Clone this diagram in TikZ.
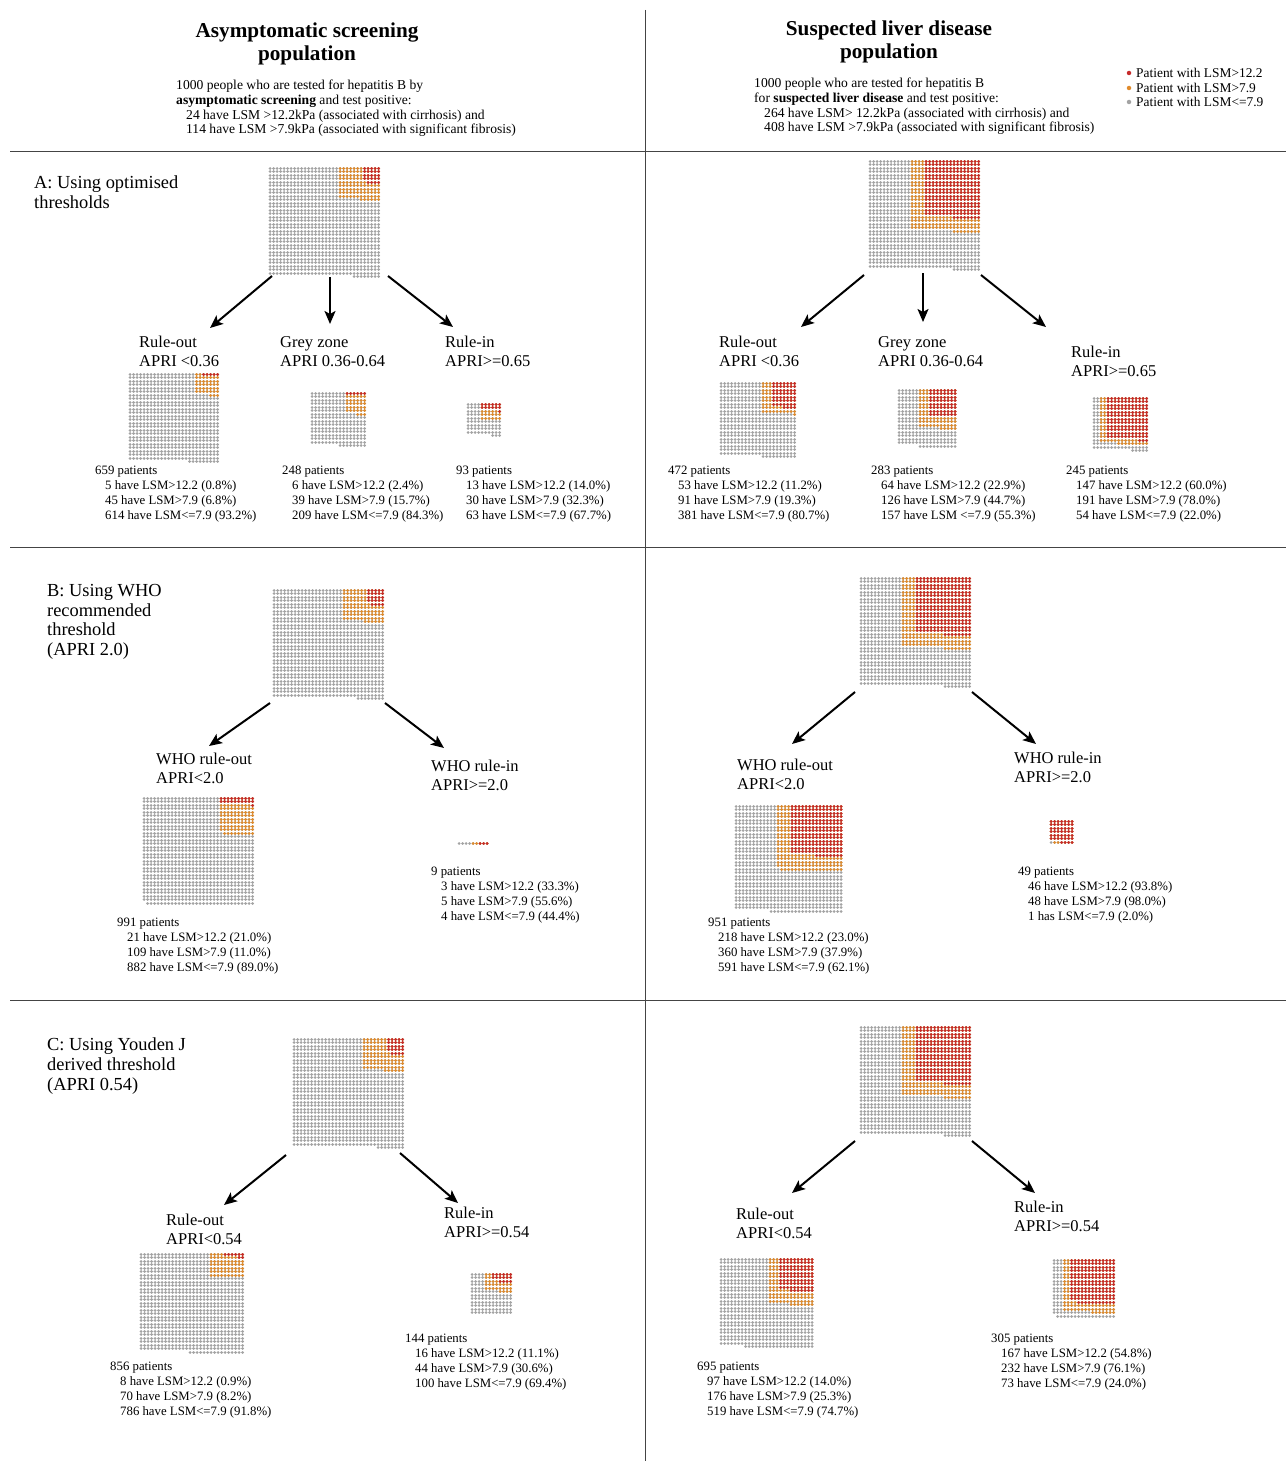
\documentclass[tikz,border=0pt]{standalone}
\usepackage{fontspec}
\setmainfont{Liberation Serif}
\usepackage{tikz}
\usetikzlibrary{arrows.meta}
\usetikzlibrary{positioning}

\definecolor{lsmhigh}{HTML}{C62B2B}
\definecolor{lsmmid}{HTML}{E08B2C}
\definecolor{lsmlow}{HTML}{A3A3A3}
\definecolor{rulegray}{HTML}{444444}

% pitch of the dot grid
\def\wp{3.5}

% one run of dots, right aligned in a grid of #4 columns
\newcommand{\dotseg}[5]{%
  \ifnum#5>0
    \pgfmathsetmacro{\xa}{#2+(#4-#5)*\wp}
    \pgfmathsetmacro{\xb}{#2+(#4-1)*\wp+0.3}
    \draw[dotline,#1] (\xa,#3) -- (\xb,#3);
  \fi}

% x, y, patients, columns, red, red width, orange, orange width
\newcommand{\waffle}[8]{%
  \pgfmathtruncatemacro{\wfull}{floor(#3/#4)}
  \pgfmathtruncatemacro{\wrem}{mod(#3,#4)}
  \pgfmathtruncatemacro{\wrows}{\wrem>0 ? \wfull : \wfull-1}
  \foreach \row in {0,...,\wrows}{
    \pgfmathsetmacro{\yy}{#2+\row*\wp}
    \pgfmathtruncatemacro{\lg}{\row<\wfull ? #4 : \wrem}
    \pgfmathtruncatemacro{\lo}{\row<floor(#7/#8) ? #8 : (\row==floor(#7/#8) ? mod(#7,#8) : 0)}
    \pgfmathtruncatemacro{\lr}{\row<floor(#5/#6) ? #6 : (\row==floor(#5/#6) ? mod(#5,#6) : 0)}
    \dotseg{lsmlow}{#1}{\yy}{#4}{\lg}
    \dotseg{lsmmid}{#1}{\yy}{#4}{\lo}
    \dotseg{lsmhigh}{#1}{\yy}{#4}{\lr}
  }}

\tikzset{
  dotline/.style={line width=3pt, line cap=round, dash pattern=on 0.01pt off 3.49pt},
  rule/.style={draw=rulegray, line width=0.9pt},
  arr/.style={-{Stealth[length=13pt,width=11pt,inset=3pt]}, line width=2pt},
  title/.style={font=\bfseries\fontsize{21.2}{22.5}\selectfont, align=center},
  desc/.style={font=\fontsize{13.6}{14.7}\selectfont, align=left, anchor=north west, inner sep=0pt},
  section/.style={font=\fontsize{18.4}{19.7}\selectfont, align=left, anchor=north west, inner sep=0pt},
  branch/.style={font=\fontsize{16.5}{19}\selectfont, align=left, anchor=north west, inner sep=0pt},
  stat/.style={font=\fontsize{12.8}{15}\selectfont, align=left, anchor=north west, inner sep=0pt},
  legdot/.style={circle, fill=#1, inner sep=0pt, minimum size=4.5pt},
  legtext/.style={font=\fontsize{13.4}{14}\selectfont, anchor=west, inner sep=0pt}
}

\newcommand{\ind}{\hspace*{10pt}}

\begin{document}
\begin{tikzpicture}[x=1pt,y=-1pt]
  \useasboundingbox (0,0) rectangle (1286,1461);

  % dividers
  \draw[rule] (645,10) -- (645,1461);
  \draw[rule] (10,151) -- (1286,151);
  \draw[rule] (10,547) -- (1286,547);
  \draw[rule] (10,1000) -- (1286,1000);

  % headers
  \node[title] (asyTitle) at (307,44) {Asymptomatic screening\\population};
  \node[title] (susTitle) at (889,42) {Suspected liver disease\\population};

  \node[desc] (asyDesc) at (176,80) {1000 people who are tested for hepatitis B by\\
    \textbf{asymptomatic screening} and test positive:\\
    \ind 24 have LSM >12.2kPa (associated with cirrhosis) and\\
    \ind 114 have LSM >7.9kPa (associated with significant fibrosis)};
  \node[desc] (susDesc) at (754,78) {1000 people who are tested for hepatitis B\\
    for \textbf{suspected liver disease} and test positive:\\
    \ind 264 have LSM> 12.2kPa (associated with cirrhosis) and\\
    \ind 408 have LSM >7.9kPa (associated with significant fibrosis)};

  % legend
  \node[legdot=lsmhigh] (legHigh) at (1129,73) {};
  \node[legdot=lsmmid] (legMid) at (1129,88) {};
  \node[legdot=lsmlow] (legLow) at (1129,102) {};
  \node[legtext] (legHighTxt) at (1136,73) {Patient with LSM>12.2};
  \node[legtext] (legMidTxt) at (1136,88) {Patient with LSM>7.9};
  \node[legtext] (legLowTxt) at (1136,102) {Patient with LSM<=7.9};

  % ---------------- A: optimised thresholds
  \node[section] (secA) at (34,176) {A: Using optimised\\thresholds};

  \waffle{270}{168}{1000}{32}{24}{5}{114}{12}
  \waffle{130}{374}{659}{26}{5}{5}{45}{7}
  \waffle{312}{393}{248}{16}{6}{6}{39}{6}
  \waffle{468}{404}{93}{10}{13}{6}{30}{6}

  \node[branch] (asyA-outlab) at (139,336) {Rule-out\\APRI <0.36};
  \node[branch] (asyA-greylab) at (280,336) {Grey zone\\APRI 0.36-0.64};
  \node[branch] (asyA-inlab) at (445,336) {Rule-in\\APRI>=0.65};

  \node[stat] (asyA-outnum) at (95,466) {659 patients\\
    \ind 5 have LSM>12.2 (0.8\%)\\ \ind 45 have LSM>7.9 (6.8\%)\\ \ind 614 have LSM<=7.9 (93.2\%)};
  \node[stat] (asyA-greynum) at (282,466) {248 patients\\
    \ind 6 have LSM>12.2 (2.4\%)\\ \ind 39 have LSM>7.9 (15.7\%)\\ \ind 209 have LSM<=7.9 (84.3\%)};
  \node[stat] (asyA-innum) at (456,466) {93 patients\\
    \ind 13 have LSM>12.2 (14.0\%)\\ \ind 30 have LSM>7.9 (32.3\%)\\ \ind 63 have LSM<=7.9 (67.7\%)};

  \coordinate (asyA-s1) at (272,276);
  \coordinate (asyA-s2) at (330,277);
  \coordinate (asyA-s3) at (388,276);
  \coordinate (asyA-e1) at (210,328);
  \coordinate (asyA-e2) at (330,324);
  \coordinate (asyA-e3) at (453,327);
  \draw[arr] (asyA-s1) -- (asyA-e1);
  \draw[arr] (asyA-s2) -- (asyA-e2);
  \draw[arr] (asyA-s3) -- (asyA-e3);

  \waffle{870}{161}{1000}{32}{264}{16}{408}{20}
  \waffle{721}{383}{472}{22}{53}{7}{91}{10}
  \waffle{899}{390}{283}{17}{64}{8}{126}{11}
  \waffle{1094}{398}{245}{16}{147}{12}{191}{14}

  \node[branch] (susA-outlab) at (719,336) {Rule-out\\APRI <0.36};
  \node[branch] (susA-greylab) at (878,336) {Grey zone\\APRI 0.36-0.64};
  \node[branch] (susA-inlab) at (1071,346) {Rule-in\\APRI>=0.65};

  \node[stat] (susA-outnum) at (668,466) {472 patients\\
    \ind 53 have LSM>12.2 (11.2\%)\\ \ind 91 have LSM>7.9 (19.3\%)\\ \ind 381 have LSM<=7.9 (80.7\%)};
  \node[stat] (susA-greynum) at (871,466) {283 patients\\
    \ind 64 have LSM>12.2 (22.9\%)\\ \ind 126 have LSM>7.9 (44.7\%)\\ \ind 157 have LSM <=7.9 (55.3\%)};
  \node[stat] (susA-innum) at (1066,466) {245 patients\\
    \ind 147 have LSM>12.2 (60.0\%)\\ \ind 191 have LSM>7.9 (78.0\%)\\ \ind 54 have LSM<=7.9 (22.0\%)};

  \coordinate (susA-s1) at (864,275);
  \coordinate (susA-s2) at (923,273);
  \coordinate (susA-s3) at (981,275);
  \coordinate (susA-e1) at (801,327);
  \coordinate (susA-e2) at (923,322);
  \coordinate (susA-e3) at (1046,327);
  \draw[arr] (susA-s1) -- (susA-e1);
  \draw[arr] (susA-s2) -- (susA-e2);
  \draw[arr] (susA-s3) -- (susA-e3);

  % ---------------- B: WHO threshold
  \node[section] (secB) at (47,584) {B: Using WHO\\recommended\\threshold\\(APRI 2.0)};

  \waffle{274}{590}{1000}{32}{24}{5}{114}{12}
  \waffle{144}{798}{991}{32}{21}{10}{109}{10}
  \waffle{459}{843}{9}{9}{3}{3}{5}{5}

  \node[branch] (asyB-outlab) at (156,753) {WHO rule-out\\APRI<2.0};
  \node[branch] (asyB-inlab) at (431,760) {WHO rule-in\\APRI>=2.0};

  \node[stat] (asyB-outnum) at (117,918) {991 patients\\
    \ind 21 have LSM>12.2 (21.0\%)\\ \ind 109 have LSM>7.9 (11.0\%)\\ \ind 882 have LSM<=7.9 (89.0\%)};
  \node[stat] (asyB-innum) at (431,867) {9 patients\\
    \ind 3 have LSM>12.2 (33.3\%)\\ \ind 5 have LSM>7.9 (55.6\%)\\ \ind 4 have LSM<=7.9 (44.4\%)};

  \coordinate (asyB-s1) at (270,703);
  \coordinate (asyB-s2) at (385,703);
  \coordinate (asyB-e1) at (209,746);
  \coordinate (asyB-e2) at (444,748);
  \draw[arr] (asyB-s1) -- (asyB-e1);
  \draw[arr] (asyB-s2) -- (asyB-e2);

  \waffle{861}{578}{1000}{32}{264}{16}{408}{20}
  \waffle{736}{806}{951}{31}{218}{15}{360}{19}
  \waffle{1051}{821}{49}{7}{46}{7}{48}{7}

  \node[branch] (susB-outlab) at (737,759) {WHO rule-out\\APRI<2.0};
  \node[branch] (susB-inlab) at (1014,752) {WHO rule-in\\APRI>=2.0};

  \node[stat] (susB-outnum) at (708,918) {951 patients\\
    \ind 218 have LSM>12.2 (23.0\%)\\ \ind 360 have LSM>7.9 (37.9\%)\\ \ind 591 have LSM<=7.9 (62.1\%)};
  \node[stat] (susB-innum) at (1018,867) {49 patients\\
    \ind 46 have LSM>12.2 (93.8\%)\\ \ind 48 have LSM>7.9 (98.0\%)\\ \ind 1 has LSM<=7.9 (2.0\%)};

  \coordinate (susB-s1) at (855,692);
  \coordinate (susB-s2) at (972,692);
  \coordinate (susB-e1) at (792,744);
  \coordinate (susB-e2) at (1036,744);
  \draw[arr] (susB-s1) -- (susB-e1);
  \draw[arr] (susB-s2) -- (susB-e2);

  % ---------------- C: Youden J threshold
  \node[section] (secC) at (47,1038) {C: Using Youden J\\derived threshold\\(APRI 0.54)};

  \waffle{294}{1039}{1000}{32}{24}{5}{114}{12}
  \waffle{141}{1254}{856}{30}{8}{6}{70}{10}
  \waffle{472}{1274}{144}{12}{16}{6}{44}{8}

  \node[branch] (asyC-outlab) at (166,1214) {Rule-out\\APRI<0.54};
  \node[branch] (asyC-inlab) at (444,1207) {Rule-in\\APRI>=0.54};

  \node[stat] (asyC-outnum) at (110,1362) {856 patients\\
    \ind 8 have LSM>12.2 (0.9\%)\\ \ind 70 have LSM>7.9 (8.2\%)\\ \ind 786 have LSM<=7.9 (91.8\%)};
  \node[stat] (asyC-innum) at (405,1334) {144 patients\\
    \ind 16 have LSM>12.2 (11.1\%)\\ \ind 44 have LSM>7.9 (30.6\%)\\ \ind 100 have LSM<=7.9 (69.4\%)};

  \coordinate (asyC-s1) at (286,1155);
  \coordinate (asyC-s2) at (400,1153);
  \coordinate (asyC-e1) at (224,1205);
  \coordinate (asyC-e2) at (458,1203);
  \draw[arr] (asyC-s1) -- (asyC-e1);
  \draw[arr] (asyC-s2) -- (asyC-e2);

  \waffle{861}{1027}{1000}{32}{264}{16}{408}{20}
  \waffle{721}{1259}{695}{27}{97}{10}{176}{13}
  \waffle{1054}{1260}{305}{18}{167}{13}{232}{15}

  \node[branch] (susC-outlab) at (736,1208) {Rule-out\\APRI<0.54};
  \node[branch] (susC-inlab) at (1014,1201) {Rule-in\\APRI>=0.54};

  \node[stat] (susC-outnum) at (697,1362) {695 patients\\
    \ind 97 have LSM>12.2 (14.0\%)\\ \ind 176 have LSM>7.9 (25.3\%)\\ \ind 519 have LSM<=7.9 (74.7\%)};
  \node[stat] (susC-innum) at (991,1334) {305 patients\\
    \ind 167 have LSM>12.2 (54.8\%)\\ \ind 232 have LSM>7.9 (76.1\%)\\ \ind 73 have LSM<=7.9 (24.0\%)};

  \coordinate (susC-s1) at (855,1141);
  \coordinate (susC-s2) at (972,1141);
  \coordinate (susC-e1) at (792,1193);
  \coordinate (susC-e2) at (1035,1193);
  \draw[arr] (susC-s1) -- (susC-e1);
  \draw[arr] (susC-s2) -- (susC-e2);
\end{tikzpicture}
\end{document}
